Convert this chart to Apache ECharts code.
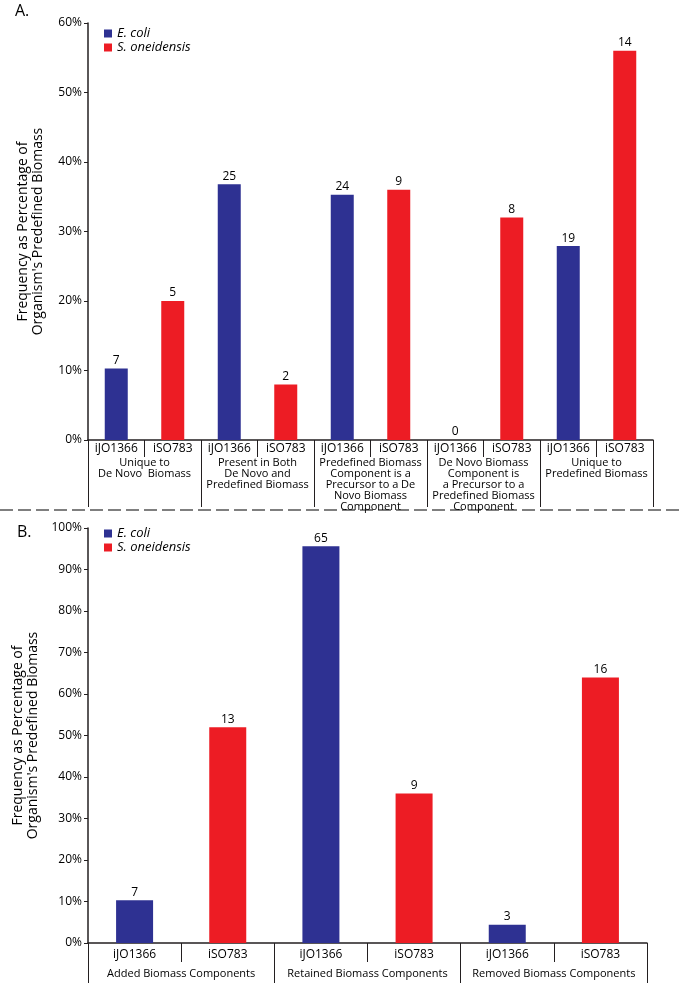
<!DOCTYPE html>
<html>
<head>
<meta charset="utf-8">
<script src="https://cdn.jsdelivr.net/npm/echarts@6/dist/echarts.min.js"></script>
<style>html,body{margin:0;padding:0;background:#fff}#c{width:681px;height:983px}</style>
</head>
<body>
<div id="c"></div>
<script>
// ---- Data ----
const modelsA = ['iJO1366','iSO783','iJO1366','iSO783','iJO1366','iSO783','iJO1366','iSO783','iJO1366','iSO783'];
const groupsA = [
  'Unique to\nDe Novo  Biomass',
  'Present in Both\nDe Novo and\nPredefined Biomass',
  'Predefined Biomass\nComponent is a\nPrecursor to a De\nNovo Biomass\nComponent',
  'De Novo Biomass\nComponent is\na Precursor to a\nPredefined Biomass\nComponent',
  'Unique to\nPredefined Biomass'
];
const ecoliPctA = [10.3, 36.8, 35.3, 0, 27.9];
const ecoliCntA = [7, 25, 24, 0, 19];
const soPctA = [20, 8, 36, 32, 56];
const soCntA = [5, 2, 9, 8, 14];

const modelsB = ['iJO1366','iSO783','iJO1366','iSO783','iJO1366','iSO783'];
const groupsB = ['Added Biomass Components','Retained Biomass Components','Removed Biomass Components'];
const ecoliPctB = [10.3, 95.6, 4.4];
const ecoliCntB = [7, 65, 3];
const soPctB = [52, 36, 64];
const soCntB = [13, 9, 16];

const yNameText = 'Frequency as Percentage of\nOrganism\'s Predefined Biomass';
const legendNames = ['E. coli', 'S. oneidensis'];

// ---- Style ----
const FONT = 'Open Sans';
const BLUE = '#2E3192';
const RED = '#ED1C24';
const AX = '#231F20';

function interleave(vals, slot) {
  const out = [];
  vals.forEach(v => { if (slot === 0) { out.push(v, null); } else { out.push(null, v); } });
  return out;
}

function barSeries(name, color, vals, cnts, slot, gi, width) {
  return {
    name: name, type: 'bar', xAxisIndex: gi * 2, yAxisIndex: gi,
    data: interleave(vals, slot), barWidth: width, barGap: '-100%',
    itemStyle: { color: color },
    label: {
      show: true, position: 'top', distance: 2, color: '#000', fontFamily: FONT, fontSize: 12,
      formatter: p => String(cnts[Math.floor(p.dataIndex / 2)])
    },
    animation: false
  };
}

function yAxis(gi, max, gap) {
  return {
    type: 'value', gridIndex: gi, min: 0, max: max, interval: 10,
    name: yNameText, nameLocation: 'middle', nameGap: gap, nameRotate: 90,
    nameTextStyle: { fontFamily: FONT, fontSize: 14, color: '#000', lineHeight: 15 },
    axisLine: { show: true, lineStyle: { color: AX, width: 1.5 } },
    axisTick: { show: true, length: 4, lineStyle: { color: AX, width: 1 } },
    axisLabel: { formatter: '{value}%', fontFamily: FONT, fontSize: 12, color: '#000', margin: 6 },
    splitLine: { show: false }
  };
}

function modelAxis(gi, data, tickLen, margin) {
  return {
    type: 'category', gridIndex: gi, data: data, position: 'bottom',
    axisLine: { show: true, lineStyle: { color: AX, width: 1.5 } },
    axisTick: { show: true, interval: 0, length: tickLen, lineStyle: { color: AX, width: 1 } },
    axisLabel: { interval: 0, fontFamily: FONT, fontSize: 12, color: '#000', margin: margin },
    splitLine: { show: false }
  };
}

function groupAxis(gi, data, tickLen, margin, fs, lh) {
  return {
    type: 'category', gridIndex: gi, data: data, position: 'bottom',
    axisLine: { show: false },
    axisTick: { show: true, interval: 0, length: tickLen, lineStyle: { color: AX, width: 1 } },
    axisLabel: { interval: 0, fontFamily: FONT, fontSize: fs, lineHeight: lh, color: '#000', margin: margin },
    splitLine: { show: false }
  };
}

function legend(top) {
  return {
    data: legendNames, orient: 'vertical', left: 99, top: top, icon: 'rect',
    itemWidth: 8, itemHeight: 8, itemGap: 1,
    textStyle: { fontFamily: FONT, fontSize: 13, fontStyle: 'italic', color: '#000' },
    selectedMode: false
  };
}

const chart = echarts.init(document.getElementById('c'), null, { renderer: 'canvas' });
chart.setOption({
  backgroundColor: '#fff',
  animation: false,
  legend: [legend(22), legend(522)],
  grid: [
    { left: 88, right: 28, top: 23, bottom: 543, containLabel: false },
    { left: 88, right: 34, top: 528, bottom: 40, containLabel: false }
  ],
  xAxis: [
    modelAxis(0, modelsA, 17, 3),
    groupAxis(0, groupsA, 67, 17, 11, 11),
    modelAxis(1, modelsB, 19, 6),
    groupAxis(1, groupsB, 45, 25, 11, 12)
  ],
  yAxis: [yAxis(0, 60, 42), yAxis(1, 100, 42)],
  series: [
    barSeries(legendNames[0], BLUE, ecoliPctA, ecoliCntA, 0, 0, 23),
    barSeries(legendNames[1], RED, soPctA, soCntA, 1, 0, 23),
    barSeries(legendNames[0], BLUE, ecoliPctB, ecoliCntB, 0, 1, 37),
    barSeries(legendNames[1], RED, soPctB, soCntB, 1, 1, 37)
  ],
  graphic: [
    { type: 'text', left: 15, top: 3, style: { text: 'A.', fontFamily: FONT, fontSize: 16, fill: '#000' } },
    { type: 'text', left: 17, top: 524, style: { text: 'B.', fontFamily: FONT, fontSize: 16, fill: '#000' } },
    { type: 'line', shape: { x1: 0, y1: 510, x2: 681, y2: 510 },
      style: { stroke: '#555', lineWidth: 1.5, lineDash: [13, 5] } }
  ]
});
</script>
</body>
</html>
